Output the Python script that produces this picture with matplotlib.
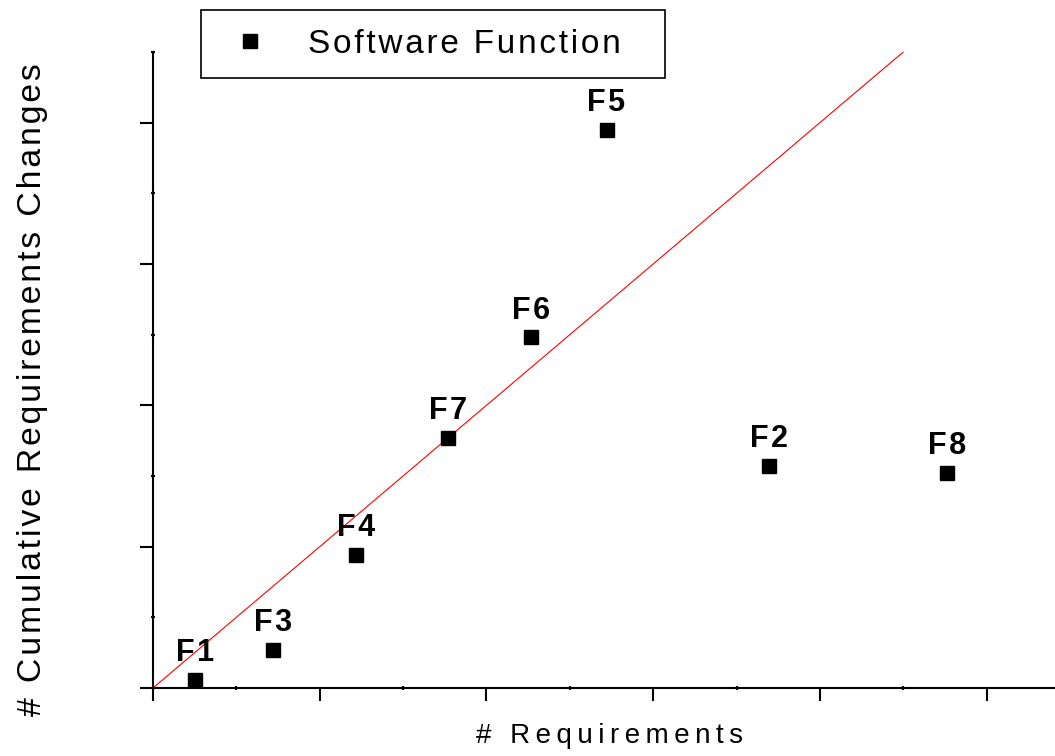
import matplotlib.pyplot as plt
from matplotlib.ticker import MultipleLocator
from matplotlib.lines import Line2D

plt.rcParams['font.family'] = ['Liberation Sans', 'DejaVu Sans']

# software functions: requirement count vs cumulative changes
functions = ['F1', 'F3', 'F4', 'F7', 'F6', 'F5', 'F2', 'F8']
n_requirements = [5, 14.4, 24.4, 35.4, 45.4, 54.4, 73.9, 95.3]
n_changes = [0.6, 2.7, 9.4, 17.7, 24.8, 39.5, 15.7, 15.2]

# reference trend line
trend_x = [0, 90]
trend_y = [0, 45]


def spaced(text, gap='\u200a'):
    # widen the tracking a little by putting a narrow space between letters
    return gap.join(text)


fig = plt.figure(figsize=(10.55, 7.56), dpi=100)
ax = fig.add_axes([153 / 1055, 68 / 756, 1 - 153 / 1055, (688 - 52) / 756])

ax.plot(trend_x, trend_y, color='red', lw=0.8, zorder=2)
ax.plot(n_requirements, n_changes, ls='none', marker='s', ms=10.5,
        color='black', zorder=3)

for name, x, y in zip(functions, n_requirements, n_changes):
    ax.annotate(spaced(name), (x, y), xytext=(0, 13.5), textcoords='offset points',
                ha='center', va='baseline', fontsize=22, fontweight='bold')

ax.set_xlim(0, 108.2)
ax.set_ylim(0, 45)
ax.xaxis.set_major_locator(MultipleLocator(20))
ax.xaxis.set_minor_locator(MultipleLocator(10))
ax.yaxis.set_major_locator(MultipleLocator(10))
ax.yaxis.set_minor_locator(MultipleLocator(5))
ax.tick_params(which='major', direction='out', length=9.5, width=1.5,
               labelbottom=False, labelleft=False)
ax.tick_params(which='minor', direction='inout', length=2.5, width=1.5)

for side in ('top', 'right'):
    ax.spines[side].set_visible(False)
for side in ('left', 'bottom'):
    ax.spines[side].set_linewidth(1.5)
ax.spines['left'].set_bounds(0, 45)

ax.set_xlabel(spaced('# Requirements', '\u2009'), fontsize=20, va='baseline')
ax.set_ylabel(spaced('# Cumulative Requirements Changes'), fontsize=24.3,
              va='baseline')
ax.xaxis.set_label_coords((610 - 153) / 902, -(743 - 688) / 636)
ax.yaxis.set_label_coords(-(153 - 41) / 902, (688 - 390) / 636)

handle = Line2D([], [], ls='none', marker='s', ms=10.5, color='black')
leg = fig.legend([handle], [spaced('Software Function')], loc='upper left',
                 bbox_to_anchor=(201 / 1055, 1 - 10 / 756, 464 / 1055, 0),
                 mode='expand', fontsize=24,
                 fancybox=False, edgecolor='black', framealpha=1,
                 borderpad=0.56, handlelength=1.83, handletextpad=0.82,
                 borderaxespad=0)
leg.get_frame().set_linewidth(1.2)

fig.savefig('out.png', dpi=100)
